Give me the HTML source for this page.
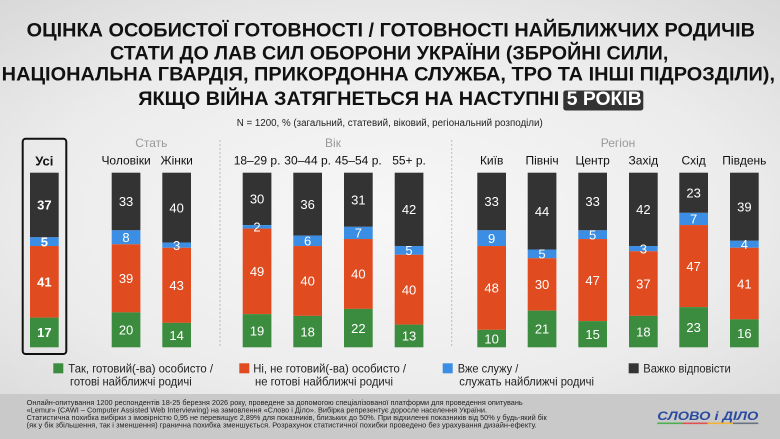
<!DOCTYPE html>
<html>
<head>
<meta charset="utf-8">
<style>
html,body{margin:0;padding:0;width:780px;height:439px;overflow:hidden;}
svg{display:block;}
text{font-family:"Liberation Sans","DejaVu Sans",sans-serif;}
</style>
</head>
<body>
<svg width="780" height="439" viewBox="0 0 780 439" xmlns="http://www.w3.org/2000/svg">
<defs>
<radialGradient id="bg" cx="50%" cy="55%" r="75%">
<stop offset="0" stop-color="#f7f7f7"/>
<stop offset="0.6" stop-color="#ececec"/>
<stop offset="1" stop-color="#d8d8d8"/>
</radialGradient>
</defs>
<rect x="0" y="0" width="780" height="394" fill="url(#bg)"/>
<rect x="0" y="394" width="780" height="45" fill="#c9c9c9"/>

<!-- Title -->
<g font-weight="bold" font-size="19.5" fill="#111">
<text x="26.7" y="36.7" textLength="728.3" lengthAdjust="spacingAndGlyphs">ОЦІНКА ОСОБИСТОЇ ГОТОВНОСТІ / ГОТОВНОСТІ НАЙБЛИЖЧИХ РОДИЧІВ</text>
<text x="110" y="59.3" textLength="558.3" lengthAdjust="spacingAndGlyphs">СТАТИ ДО ЛАВ СИЛ ОБОРОНИ УКРАЇНИ (ЗБРОЙНІ СИЛИ,</text>
<text x="1.7" y="80.7" textLength="773.3" lengthAdjust="spacingAndGlyphs">НАЦІОНАЛЬНА ГВАРДІЯ, ПРИКОРДОННА СЛУЖБА, ТРО ТА ІНШІ ПІДРОЗДІЛИ),</text>
<text x="138.3" y="105" textLength="421" lengthAdjust="spacingAndGlyphs">ЯКЩО ВІЙНА ЗАТЯГНЕТЬСЯ НА НАСТУПНІ</text>
</g>
<rect x="563.3" y="90.5" width="80" height="20" rx="2.5" fill="#333"/>
<text x="566.7" y="105" font-weight="bold" font-size="19.5" fill="#fff" textLength="75" lengthAdjust="spacingAndGlyphs">5 РОКІВ</text>
<text x="236.7" y="126" font-size="10" fill="#222" textLength="306" lengthAdjust="spacingAndGlyphs">N = 1200, % (загальний, статевий, віковий, регіональний розподіли)</text>

<!-- Group labels -->
<g font-size="12" fill="#999" text-anchor="middle">
<text x="151.3" y="147">Стать</text>
<text x="333" y="147">Вік</text>
<text x="618" y="147">Регіон</text>
</g>
<line x1="220" y1="140" x2="220" y2="348" stroke="#bbb" stroke-width="1" stroke-dasharray="2,2"/>
<line x1="451.7" y1="140" x2="451.7" y2="348" stroke="#bbb" stroke-width="1" stroke-dasharray="2,2"/>

<!-- Усі box -->
<rect x="22.7" y="138.7" width="43.6" height="215.3" rx="3" fill="none" stroke="#111" stroke-width="2"/>

<!-- Column labels -->
<g font-size="12" fill="#111" text-anchor="middle">
<text x="44.35" y="165.5" font-weight="bold" font-size="13">Усі</text>
<text x="126.05" y="164.3">Чоловіки</text>
<text x="176.65" y="164.3">Жінки</text>
<text x="257.05" y="164.3">18–29 р.</text>
<text x="307.65" y="164.3">30–44 р.</text>
<text x="358.35" y="164.3">45–54 р.</text>
<text x="409.05" y="164.3">55+ р.</text>
<text x="491.65" y="164.3">Київ</text>
<text x="542.05" y="164.3">Північ</text>
<text x="592.65" y="164.3">Центр</text>
<text x="643.35" y="164.3">Захід</text>
<text x="693.65" y="164.3">Схід</text>
<text x="744.35" y="164.3">Південь</text>
</g>

<!-- Bars -->
<g>
<!-- Усі -->
<rect x="30" y="172.7" width="28.7" height="64.6" fill="#333"/>
<rect x="30" y="237.3" width="28.7" height="8.73" fill="#3b8ee3"/>
<rect x="30" y="246.03" width="28.7" height="71.59" fill="#e04b1f"/>
<rect x="30" y="317.62" width="28.7" height="29.68" fill="#3c8c3f"/>
<!-- Чоловіки -->
<rect x="111.7" y="172.7" width="28.7" height="57.62" fill="#333"/>
<rect x="111.7" y="230.32" width="28.7" height="13.97" fill="#3b8ee3"/>
<rect x="111.7" y="244.29" width="28.7" height="68.09" fill="#e04b1f"/>
<rect x="111.7" y="312.38" width="28.7" height="34.92" fill="#3c8c3f"/>
<!-- Жінки -->
<rect x="162.3" y="172.7" width="28.7" height="69.84" fill="#333"/>
<rect x="162.3" y="242.54" width="28.7" height="5.24" fill="#3b8ee3"/>
<rect x="162.3" y="247.78" width="28.7" height="75.08" fill="#e04b1f"/>
<rect x="162.3" y="322.86" width="28.7" height="24.44" fill="#3c8c3f"/>
<!-- 18-29 -->
<rect x="242.7" y="172.7" width="28.7" height="52.38" fill="#333"/>
<rect x="242.7" y="225.08" width="28.7" height="3.49" fill="#3b8ee3"/>
<rect x="242.7" y="228.57" width="28.7" height="85.55" fill="#e04b1f"/>
<rect x="242.7" y="314.12" width="28.7" height="33.18" fill="#3c8c3f"/>
<!-- 30-44 -->
<rect x="293.3" y="172.7" width="28.7" height="62.86" fill="#333"/>
<rect x="293.3" y="235.56" width="28.7" height="10.48" fill="#3b8ee3"/>
<rect x="293.3" y="246.04" width="28.7" height="69.84" fill="#e04b1f"/>
<rect x="293.3" y="315.88" width="28.7" height="31.42" fill="#3c8c3f"/>
<!-- 45-54 -->
<rect x="344" y="172.7" width="28.7" height="54.13" fill="#333"/>
<rect x="344" y="226.83" width="28.7" height="12.22" fill="#3b8ee3"/>
<rect x="344" y="239.05" width="28.7" height="69.84" fill="#e04b1f"/>
<rect x="344" y="308.89" width="28.7" height="38.41" fill="#3c8c3f"/>
<!-- 55+ -->
<rect x="394.7" y="172.7" width="28.7" height="73.33" fill="#333"/>
<rect x="394.7" y="246.03" width="28.7" height="8.73" fill="#3b8ee3"/>
<rect x="394.7" y="254.76" width="28.7" height="69.84" fill="#e04b1f"/>
<rect x="394.7" y="324.6" width="28.7" height="22.7" fill="#3c8c3f"/>
<!-- Київ -->
<rect x="477.3" y="172.7" width="28.7" height="57.62" fill="#333"/>
<rect x="477.3" y="230.32" width="28.7" height="15.71" fill="#3b8ee3"/>
<rect x="477.3" y="246.03" width="28.7" height="83.81" fill="#e04b1f"/>
<rect x="477.3" y="329.84" width="28.7" height="17.46" fill="#3c8c3f"/>
<!-- Північ -->
<rect x="527.7" y="172.7" width="28.7" height="76.82" fill="#333"/>
<rect x="527.7" y="249.52" width="28.7" height="8.73" fill="#3b8ee3"/>
<rect x="527.7" y="258.25" width="28.7" height="52.38" fill="#e04b1f"/>
<rect x="527.7" y="310.63" width="28.7" height="36.67" fill="#3c8c3f"/>
<!-- Центр -->
<rect x="578.3" y="172.7" width="28.7" height="57.62" fill="#333"/>
<rect x="578.3" y="230.32" width="28.7" height="8.73" fill="#3b8ee3"/>
<rect x="578.3" y="239.05" width="28.7" height="82.06" fill="#e04b1f"/>
<rect x="578.3" y="321.11" width="28.7" height="26.19" fill="#3c8c3f"/>
<!-- Захід -->
<rect x="629" y="172.7" width="28.7" height="73.33" fill="#333"/>
<rect x="629" y="246.03" width="28.7" height="5.24" fill="#3b8ee3"/>
<rect x="629" y="251.27" width="28.7" height="64.6" fill="#e04b1f"/>
<rect x="629" y="315.87" width="28.7" height="31.43" fill="#3c8c3f"/>
<!-- Схід -->
<rect x="679.3" y="172.7" width="28.7" height="40.16" fill="#333"/>
<rect x="679.3" y="212.86" width="28.7" height="12.22" fill="#3b8ee3"/>
<rect x="679.3" y="225.08" width="28.7" height="82.06" fill="#e04b1f"/>
<rect x="679.3" y="307.14" width="28.7" height="40.16" fill="#3c8c3f"/>
<!-- Південь -->
<rect x="730" y="172.7" width="28.7" height="68.09" fill="#333"/>
<rect x="730" y="240.79" width="28.7" height="6.98" fill="#3b8ee3"/>
<rect x="730" y="247.77" width="28.7" height="71.59" fill="#e04b1f"/>
<rect x="730" y="319.36" width="28.7" height="27.94" fill="#3c8c3f"/>
</g>

<!-- Bar values -->
<g font-size="13" fill="#fff" text-anchor="middle">
<g font-weight="bold">
<text x="44.35" y="209.7">37</text>
<text x="44.35" y="246.4">5</text>
<text x="44.35" y="286.5">41</text>
<text x="44.35" y="337.2">17</text>
</g>
<text x="126.05" y="206.2">33</text>
<text x="126.05" y="242">8</text>
<text x="126.05" y="283">39</text>
<text x="126.05" y="334.5">20</text>

<text x="176.65" y="212.3">40</text>
<text x="176.65" y="249.9">3</text>
<text x="176.65" y="290">43</text>
<text x="176.65" y="339.8">14</text>

<text x="257.05" y="203.6">30</text>
<text x="257.05" y="231.5">2</text>
<text x="257.05" y="276">49</text>
<text x="257.05" y="335.4">19</text>

<text x="307.65" y="208.8">36</text>
<text x="307.65" y="245.5">6</text>
<text x="307.65" y="285.7">40</text>
<text x="307.65" y="336.3">18</text>

<text x="358.35" y="204.5">31</text>
<text x="358.35" y="237.6">7</text>
<text x="358.35" y="278.7">40</text>
<text x="358.35" y="332.8">22</text>

<text x="409.05" y="214.1">42</text>
<text x="409.05" y="255.1">5</text>
<text x="409.05" y="294.4">40</text>
<text x="409.05" y="340.6">13</text>

<text x="491.65" y="206.2">33</text>
<text x="491.65" y="242.9">9</text>
<text x="491.65" y="292.6">48</text>
<text x="491.65" y="343.3">10</text>

<text x="542.05" y="215.8">44</text>
<text x="542.05" y="258.6">5</text>
<text x="542.05" y="289.1">30</text>
<text x="542.05" y="333.7">21</text>

<text x="592.65" y="206.2">33</text>
<text x="592.65" y="239.4">5</text>
<text x="592.65" y="284.8">47</text>
<text x="592.65" y="338.9">15</text>

<text x="643.35" y="214.1">42</text>
<text x="643.35" y="253.3">3</text>
<text x="643.35" y="288.3">37</text>
<text x="643.35" y="336.3">18</text>

<text x="693.65" y="197.5">23</text>
<text x="693.65" y="223.7">7</text>
<text x="693.65" y="270.8">47</text>
<text x="693.65" y="331.9">23</text>

<text x="744.35" y="211.4">39</text>
<text x="744.35" y="249">4</text>
<text x="744.35" y="288.3">41</text>
<text x="744.35" y="338">16</text>
</g>

<!-- Legend -->
<rect x="53.3" y="363.3" width="10" height="10" fill="#3c8c3f"/>
<rect x="239.3" y="363.3" width="10" height="10" fill="#e04b1f"/>
<rect x="442.7" y="363.3" width="10" height="10" fill="#3b8ee3"/>
<rect x="628.7" y="363.3" width="10" height="10" fill="#333"/>
<g font-size="12" fill="#222">
<text x="68.3" y="372.6" textLength="144.7" lengthAdjust="spacingAndGlyphs">Так, готовий(-ва) особисто /</text>
<text x="70" y="385.3" textLength="121.7" lengthAdjust="spacingAndGlyphs">готові найближчі родичі</text>
<text x="253.3" y="372.6" textLength="152.7" lengthAdjust="spacingAndGlyphs">Ні, не готовий(-ва) особисто /</text>
<text x="255" y="385.3" textLength="138" lengthAdjust="spacingAndGlyphs">не готові найближчі родичі</text>
<text x="457.7" y="372.6" textLength="60.6" lengthAdjust="spacingAndGlyphs">Вже служу /</text>
<text x="459.3" y="385.3" textLength="134.7" lengthAdjust="spacingAndGlyphs">служать найближчі родичі</text>
<text x="643.3" y="372.6" textLength="87.4" lengthAdjust="spacingAndGlyphs">Важко відповісти</text>
</g>

<!-- Footer -->
<g font-size="7.3" fill="#222">
<text x="26.7" y="405.2" textLength="496" lengthAdjust="spacingAndGlyphs">Онлайн-опитування 1200 респондентів 18-25 березня 2026 року, проведене за допомогою спеціалізованої платформи для проведення опитувань</text>
<text x="26.7" y="412.7" textLength="460.3" lengthAdjust="spacingAndGlyphs">«Lemur» (CAWI – Computer Assisted Web Interviewing) на замовлення «Слово і Діло». Вибірка репрезентує доросле населення України.</text>
<text x="26.7" y="420.2" textLength="520" lengthAdjust="spacingAndGlyphs">Статистична похибка вибірки з імовірністю 0,95 не перевищує 2,89% для показників, близьких до 50%. При відхиленні показників від 50% у будь-який бік</text>
<text x="26.7" y="427.7" textLength="510" lengthAdjust="spacingAndGlyphs">(як у бік збільшення, так і зменшення) гранична похибка зменшується. Розрахунок статистичної похибки проведено без урахування дизайн-ефекту.</text>
</g>

<!-- Logo -->
<text x="657.3" y="420.2" font-size="11.6" font-weight="bold" font-style="italic" fill="#2b4ba0" textLength="101" lengthAdjust="spacingAndGlyphs">СЛОВО і ДІЛО</text>
<rect x="657.3" y="422.5" width="25.2" height="1.6" fill="#4caf50"/>
<rect x="682.5" y="422.5" width="25.2" height="1.6" fill="#e05252"/>
<rect x="707.7" y="422.5" width="25.2" height="1.6" fill="#f2b233"/>
<rect x="732.9" y="422.5" width="25.4" height="1.6" fill="#6b7282"/>
</svg>
</body>
</html>
